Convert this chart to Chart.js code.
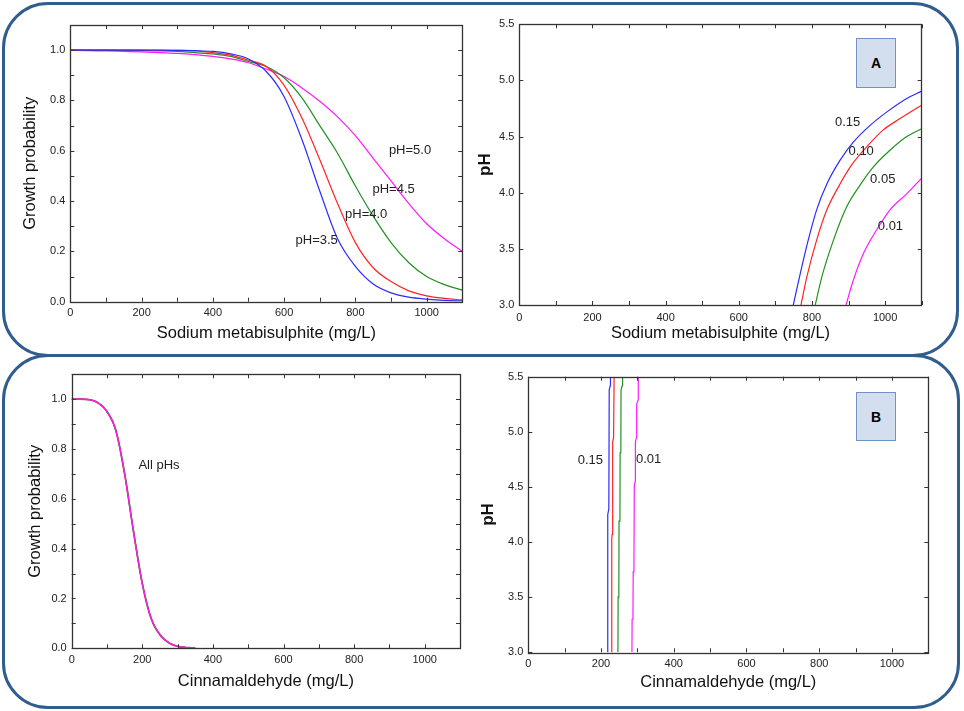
<!DOCTYPE html>
<html><head><meta charset="utf-8">
<script src="https://cdn.jsdelivr.net/npm/chart.js@4.4.1/dist/chart.umd.min.js"></script>
<style>
html,body{margin:0;padding:0;background:#fff;}
#wrap{position:relative;width:964px;height:711px;overflow:hidden;font-family:"Liberation Sans",Arial,sans-serif;}
.frame{position:absolute;box-sizing:border-box;border:3px solid #2f5d8e;border-radius:46px;}
canvas{position:absolute;}
.tag{position:absolute;box-sizing:border-box;background:#d3dfee;border:1.5px solid #6f93c6;font-weight:bold;font-size:14px;display:flex;align-items:center;justify-content:center;color:#000;font-family:"Liberation Sans",Arial,sans-serif;}
</style></head><body>
<div id="wrap">
<div class="frame" style="left:1.5px;top:353.5px;width:958px;height:355px"></div>
<div class="frame" style="left:1.5px;top:1.5px;width:957px;height:355px"></div>
<canvas id="c1" style="left:0;top:0" width="480" height="352"></canvas>
<canvas id="c2" style="left:470px;top:0" width="494" height="352"></canvas>
<canvas id="c3" style="left:0;top:352px" width="480" height="359"></canvas>
<canvas id="c4" style="left:470px;top:352px" width="494" height="359"></canvas>
<div class="tag" style="left:856px;top:38px;width:40px;height:50px">A</div>
<div class="tag" style="left:856px;top:392px;width:40px;height:49px">B</div>
</div>
<script>
// ---------- data ----------
const xTickLabels = [0, 200, 400, 600, 800, 1000];
const gpTickLabels = [0.0, 0.2, 0.4, 0.6, 0.8, 1.0];
const phTickLabels = [3.0, 3.5, 4.0, 4.5, 5.0, 5.5];

// Panel A left: growth probability vs sodium metabisulphite
const sodiumX = [0,50,100,150,200,250,300,350,400,450,500,550,600,650,700,750,800,850,900,950,1000,1050,1100];
const gpPH35 = [1.0,1.0,1.0,1.0,1.0,1.0,0.999,0.998,0.995,0.985,0.965,0.915,0.815,0.645,0.44,0.25,0.14,0.07,0.035,0.018,0.01,0.005,0.003];
const gpPH40 = [1.0,1.0,1.0,1.0,1.0,0.999,0.999,0.997,0.99,0.98,0.96,0.935,0.86,0.73,0.565,0.39,0.235,0.135,0.08,0.043,0.023,0.013,0.007];
const gpPH45 = [1.0,1.0,1.0,0.999,0.998,0.997,0.995,0.99,0.985,0.975,0.955,0.935,0.89,0.81,0.70,0.59,0.46,0.34,0.235,0.155,0.10,0.068,0.046];
const gpPH50 = [1.0,0.998,0.997,0.995,0.993,0.99,0.987,0.982,0.975,0.965,0.95,0.925,0.895,0.85,0.797,0.735,0.66,0.57,0.48,0.39,0.31,0.25,0.20];

// Panel A right: contour lines (x, pH)
const cA15X  = [749,768,790,813,841,877,913,959,1005,1059,1100];
const cA15PH = [3.0,3.28,3.58,3.85,4.08,4.29,4.45,4.60,4.72,4.84,4.905];
const cA10X  = [770,786,813,841,872,909,950,995,1041,1100];
const cA10PH = [3.0,3.25,3.58,3.85,4.05,4.25,4.41,4.56,4.66,4.78];
const cA05X  = [809,827,859,895,932,968,1014,1059,1100];
const cA05PH = [3.0,3.25,3.58,3.875,4.07,4.23,4.38,4.50,4.57];
const cA01X  = [893,913,941,977,1014,1059,1100];
const cA01PH = [3.0,3.22,3.46,3.67,3.85,3.99,4.13];

// Panel B left: growth probability vs cinnamaldehyde (all pHs overlap)
const cinnX  = [0,25,50,75,100,125,150,175,200,225,250,275,300,325,350];
const cinnGP = [1.0,1.0,0.998,0.985,0.95,0.875,0.70,0.47,0.26,0.12,0.055,0.022,0.008,0.003,0.001];

// Panel B right: contour lines (x, pH)
const cB15X  = [218,218.5,221.5,222.5,225.5,226];
const cB15PH = [3.0,4.25,4.3,5.38,5.42,5.5];
const cB10X  = [229,229.5,230.5,232,234.5,236];
const cB10PH = [3.0,4.03,4.07,4.91,4.95,5.5];
const cB05X  = [246.5,247,249,249.5,252,252.5,254.5,255,258.5,259.3];
const cB05PH = [3.0,3.5,3.54,4.19,4.23,4.81,4.85,5.38,5.42,5.5];
const cB01X  = [285,285.5,287.8,288.5,290.5,291.5,294,294.5,297.5,298,302,302.4];
const cB01PH = [3.0,3.3,3.34,3.73,3.77,4.51,4.55,4.91,4.95,5.25,5.29,5.5];

// ---------- helpers ----------
const FAM = '"Liberation Sans", Arial, sans-serif';
const BLUE = '#2b2bff', RED = '#ff2424', GREEN = '#229022', MAG = '#ff1aff';

function pts(xs, ys) { return xs.map((v, i) => ({x: v, y: ys[i]})); }

function line(data, color, extra) {
  return Object.assign({data, borderColor: color, backgroundColor: color, borderWidth: 1.2,
    pointRadius: 0, showLine: true, fill: false, cubicInterpolationMode: 'monotone'}, extra || {});
}

const framePlugin = {
  id: 'frame',
  afterDatasetsDraw(chart, args, opts) {
    const {ctx, chartArea: a, scales: {x, y}} = chart;
    ctx.save();
    ctx.strokeStyle = '#333';
    ctx.lineWidth = 1;
    ctx.beginPath();
    x.ticks.forEach(t => {
      const p = Math.round(x.getPixelForValue(t.value)) + 0.5;
      ctx.moveTo(p, a.bottom); ctx.lineTo(p, a.bottom - 4);
      ctx.moveTo(p, a.top); ctx.lineTo(p, a.top + 4);
    });
    y.ticks.forEach(t => {
      const p = Math.round(y.getPixelForValue(t.value)) + 0.5;
      ctx.moveTo(a.left, p); ctx.lineTo(a.left + 4, p);
      ctx.moveTo(a.right, p); ctx.lineTo(a.right - 4, p);
    });
    ctx.stroke();
    ctx.lineWidth = 1.3;
    ctx.strokeRect(Math.round(a.left) + 0.5, Math.round(a.top) + 0.5, Math.round(a.right - a.left), Math.round(a.bottom - a.top));
    ctx.fillStyle = '#222';
    ctx.font = '13px ' + FAM;
    ctx.textAlign = 'left';
    ctx.textBaseline = 'middle';
    (opts.labels || []).forEach(l => {
      ctx.fillText(l.text, x.getPixelForValue(l.x), y.getPixelForValue(l.y));
    });
    ctx.restore();
  }
};

function makeChart(id, p) {
  return new Chart(document.getElementById(id), {
    type: 'scatter',
    data: {datasets: p.datasets},
    plugins: [framePlugin],
    options: {
      responsive: false, animation: false,
      layout: {padding: p.pad},
      plugins: {legend: {display: false}, tooltip: {enabled: false}, frame: {labels: p.labels}},
      scales: {
        x: {
          type: 'linear', min: 0, max: 1100,
          grid: {display: false, drawTicks: false}, border: {display: false},
          ticks: {stepSize: 100, autoSkip: false, maxRotation: 0, padding: p.xTickPad, color: '#222',
            font: {size: 11, family: FAM},
            callback: v => xTickLabels.includes(v) ? String(v) : ''},
          title: {display: true, text: p.xTitle, color: '#111', font: {size: 16.5, family: FAM},
            padding: {top: 0, bottom: p.xTitlePad}},
          afterFit: s => { s.height = p.xH; }
        },
        y: {
          type: 'linear', min: p.yMin, max: p.yMax,
          grid: {display: false, drawTicks: false}, border: {display: false},
          ticks: {stepSize: p.yStep, autoSkip: false, padding: 5, color: '#222',
            font: {size: 11, family: FAM},
            callback: v => {
              const ok = p.yLabels.some(t => Math.abs(t - v) < 1e-6);
              return ok ? v.toFixed(1) : '';
            }},
          title: {display: true, text: p.yTitle, color: '#111',
            font: {size: p.yBold ? 17 : 16.5, family: FAM, weight: p.yBold ? 'bold' : 'normal'},
            padding: {top: p.yTitlePad, bottom: 0}},
          afterFit: s => { s.width = p.yW; }
        }
      }
    }
  });
}

// Panel 1
makeChart('c1', {
  datasets: [
    line(pts(sodiumX, gpPH35), BLUE),
    line(pts(sodiumX, gpPH40), RED),
    line(pts(sodiumX, gpPH45), GREEN),
    line(pts(sodiumX, gpPH50), MAG)
  ],
  pad: {left: 0, top: 25, right: 17.7, bottom: 0},
  yW: 70.3, xH: 50.3, xTickPad: 5, xTitlePad: 9, yTitlePad: 21,
  yMin: 0, yMax: 1.1, yStep: 0.1, yLabels: gpTickLabels,
  xTitle: 'Sodium metabisulphite (mg/L)', yTitle: 'Growth probability',
  labels: [
    {text: 'pH=5.0', x: 894, y: 0.60},
    {text: 'pH=4.5', x: 848, y: 0.446},
    {text: 'pH=4.0', x: 771, y: 0.347},
    {text: 'pH=3.5', x: 632, y: 0.245}
  ]
});

// Panel 2
makeChart('c2', {
  datasets: [
    line(pts(cA15X, cA15PH), BLUE),
    line(pts(cA10X, cA10PH), RED),
    line(pts(cA05X, cA05PH), GREEN),
    line(pts(cA01X, cA01PH), MAG)
  ],
  pad: {left: 0, top: 24.3, right: 42.3, bottom: 0},
  yW: 49.3, xH: 47, xTickPad: 6, xTitlePad: 9, yTitlePad: 5.5, yBold: true,
  yMin: 3, yMax: 5.5, yStep: 0.5, yLabels: phTickLabels,
  xTitle: 'Sodium metabisulphite (mg/L)', yTitle: 'pH',
  labels: [
    {text: '0.15', x: 863, y: 4.63},
    {text: '0.10', x: 900, y: 4.365},
    {text: '0.05', x: 959, y: 4.12},
    {text: '0.01', x: 980, y: 3.70}
  ]
});

// Panel 3
makeChart('c3', {
  datasets: [
    line(pts(cinnX, cinnGP), MAG),
    line(pts(cinnX, cinnGP), RED, {borderDash: [3, 3], borderWidth: 1.8}),
    line(pts(cinnX, cinnGP), GREEN, {borderDash: [3, 3], borderDashOffset: 3, borderWidth: 1.8}),
    line(pts(cinnX, cinnGP), BLUE)
  ],
  pad: {left: 0, top: 22.3, right: 20, bottom: 0},
  yW: 71.7, xH: 62.7, xTickPad: 5, xTitlePad: 19.7, yTitlePad: 25.5,
  yMin: 0, yMax: 1.1, yStep: 0.1, yLabels: gpTickLabels,
  xTitle: 'Cinnamaldehyde (mg/L)', yTitle: 'Growth probability',
  labels: [{text: 'All pHs', x: 189, y: 0.735}]
});

// Panel 4
makeChart('c4', {
  datasets: [
    line(pts(cB15X, cB15PH), BLUE, {cubicInterpolationMode: 'default', tension: 0}),
    line(pts(cB10X, cB10PH), RED, {cubicInterpolationMode: 'default', tension: 0}),
    line(pts(cB05X, cB05PH), GREEN, {cubicInterpolationMode: 'default', tension: 0}),
    line(pts(cB01X, cB01PH), MAG, {cubicInterpolationMode: 'default', tension: 0})
  ],
  pad: {left: 0, top: 24.7, right: 35.7, bottom: 0},
  yW: 58.3, xH: 58.7, xTickPad: 5, xTitlePad: 18.7, yTitlePad: 8, yBold: true,
  yMin: 3, yMax: 5.5, yStep: 0.5, yLabels: phTickLabels,
  xTitle: 'Cinnamaldehyde (mg/L)', yTitle: 'pH',
  labels: [
    {text: '0.15', x: 136, y: 4.744},
    {text: '0.01', x: 296, y: 4.75}
  ]
});
</script>
</body></html>
